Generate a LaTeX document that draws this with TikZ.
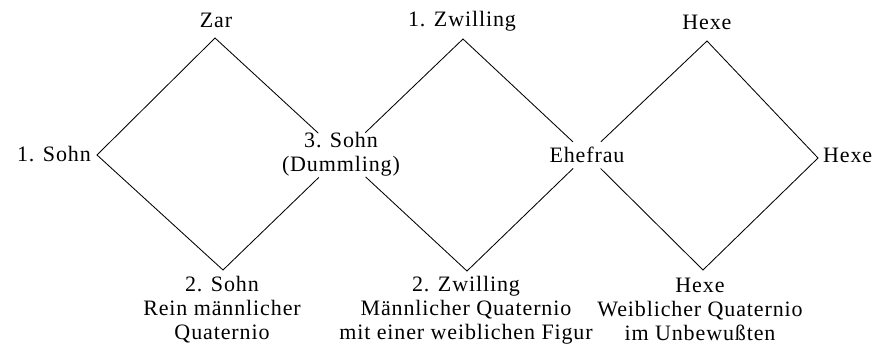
\documentclass[tikz,border=0pt]{standalone}
\usepackage{fontspec}
\setmainfont{Liberation Serif}[LetterSpace=4]
\begin{document}
\begin{tikzpicture}[x=1pt,y=-1pt,
  lbl/.style={anchor=base,inner sep=0pt,align=center,font=\fontsize{22}{24}\selectfont},
  hub/.style={circle,inner sep=0pt,minimum size=#1},
  edge/.style={line width=0.85pt,line join=miter}]
\useasboundingbox (0,0) rectangle (879,347);
% vertices
\coordinate (v1t) at (215,38);
\coordinate (v1l) at (97,155);
\coordinate (v1b) at (223,270);
\coordinate (v2t) at (463,39);
\coordinate (v2b) at (467,271);
\coordinate (v3t) at (707,41);
\coordinate (v3r) at (818,158);
\coordinate (v3b) at (703,270);
% crossing hubs
\node[hub=64pt] (x1) at (342,155) {};
\node[hub=38pt] (x2) at (587,155) {};
% labels (base = baseline of last line)
\node[lbl] (zar) at (216,28) {Zar};
\node[lbl] (zw1) at (462,27) {1. Zwilling};
\node[lbl] (hx1) at (707,30) {Hexe};
\node[lbl,anchor=base east] (so1) at (91,162) {1. Sohn};
\node[lbl] (so3) at (341,172) {3. Sohn\\(Dummling)};
\node[lbl] (ehe) at (587,163) {Ehefrau};
\node[lbl,anchor=base west] (hx2) at (823,163) {Hexe};
\node[lbl] (so2) at (222,340) {2. Sohn\\Rein männlicher\\Quaternio};
\node[lbl] (zw2) at (466,340) {2. Zwilling\\Männlicher Quaternio\\mit einer weiblichen Figur};
\node[lbl] (hx3) at (700,341) {Hexe\\Weiblicher Quaternio\\im Unbewußten};
% diamonds
\draw[edge] (x1) -- (v1t) -- (v1l) -- (v1b) -- (x1);
\draw[edge] (x1) -- (v2t) -- (x2);
\draw[edge] (x1) -- (v2b) -- (x2);
\draw[edge] (x2) -- (v3t) -- (v3r) -- (v3b) -- (x2);
\end{tikzpicture}
\end{document}
